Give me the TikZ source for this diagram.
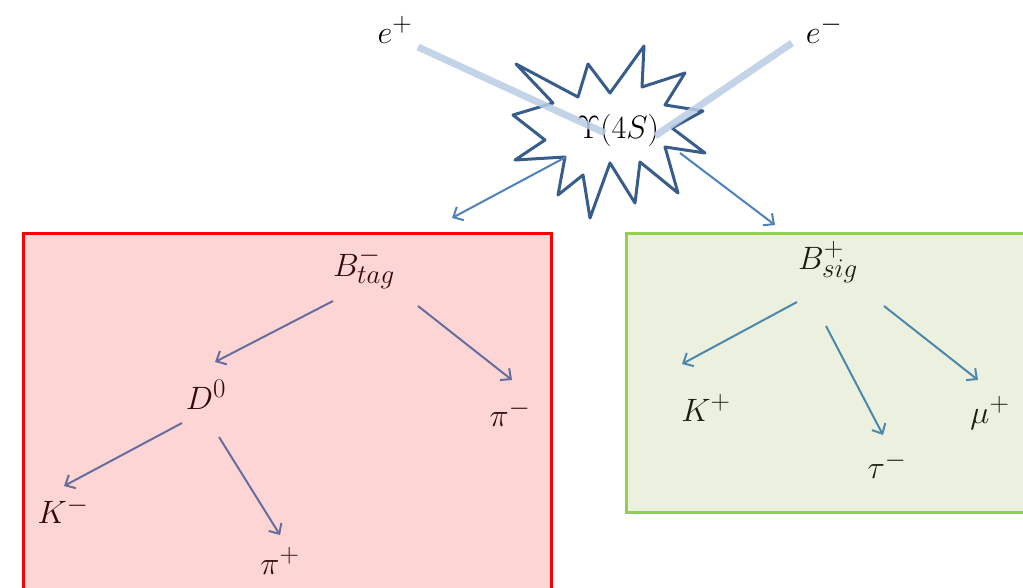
\documentclass[tikz,border=0pt]{standalone}
\usetikzlibrary{arrows.meta}
\definecolor{redfill}{RGB}{253,213,213}
\definecolor{redline}{RGB}{255,0,0}
\definecolor{greenfill}{RGB}{235,241,222}
\definecolor{greenline}{RGB}{146,208,80}
\definecolor{starline}{RGB}{56,93,138}
\definecolor{beam}{RGB}{185,205,229}
\definecolor{toparrow}{RGB}{79,129,189}
\definecolor{redarrow}{RGB}{102,110,158}
\definecolor{greenarrow}{RGB}{76,136,172}
\definecolor{redtext}{RGB}{45,12,12}
\definecolor{greentext}{RGB}{22,32,14}
\tikzset{
  lbl/.style={inner sep=0pt, font=\Huge, transform shape, scale=1.3},
  arr/.style={line width=2pt, -{Straight Barb[length=8pt,width=15pt,line width=2pt]}},
  beamline/.style={line width=7pt, color=beam, opacity=0.85},
}
\begin{document}
\begin{tikzpicture}[x=1pt,y=-1pt]
\useasboundingbox (0,0) rectangle (1023,587);
% boxes
\fill[redfill] (23,233) rectangle (551,600);
\draw[redline, line width=3pt] (23,600) -- (23,233) -- (551,233) -- (551,600);
\fill[greenfill] (626,233) rectangle (1030,512);
\draw[greenline, line width=3pt] (1030,512) -- (626,512) -- (626,233) -- (1030,233);
% star
\draw[starline, fill=white, line width=3pt, line join=round]
  (516,64) -- (578,97) -- (588,64) -- (610,93) -- (644,46) -- (642,87)
  -- (685,73) -- (665,105) -- (703,111) -- (672,128) -- (705,153) -- (665,147)
  -- (678,193) -- (640,162) -- (635,203) -- (610,163) -- (590,218) -- (583,175)
  -- (558,195) -- (565,157) -- (515,160) -- (545,140) -- (513,115) -- (553,103)
  -- cycle;
% labels
\node[lbl] (ep) at (395,30) {$e^+$};
\node[lbl] (em) at (824,30) {$e^-$};
\node[lbl] (ups) at (618,130) {$\Upsilon(4S)$};
% beams
\draw[beamline] ([shift={(23,17)}]ep.center) -- ([shift={(-13,3)}]ups.center);
\draw[beamline] ([shift={(-32,13)}]em.center) -- ([shift={(37,6)}]ups.center);
% arrows from star
\draw[arr, toparrow] ([shift={(-52,27)}]ups.center) -- ([shift={(-166,88)}]ups.center) coordinate (tagend);
\draw[arr, toparrow] ([shift={(62,23)}]ups.center) -- ([shift={(157,95)}]ups.center) coordinate (sigend);
% tag side
\begin{scope}[redtext]
\node[lbl] (btag) at (364,268) {$B^-_{tag}$};
\node[lbl] (d0) at (206,395) {$D^0$};
\node[lbl] (pim) at (510,413) {$\pi^-$};
\node[lbl] (km) at (63,510) {$K^-$};
\node[lbl] (pip) at (280,561) {$\pi^+$};
\end{scope}
\draw[arr, redarrow] ([shift={(-31,33)}]btag.center) -- ([shift={(9,-33)}]d0.center);
\draw[arr, redarrow] ([shift={(54,38)}]btag.center) -- ([shift={(2,-33)}]pim.center);
\draw[arr, redarrow] ([shift={(-24,28)}]d0.center) -- ([shift={(1,-24)}]km.center);
\draw[arr, redarrow] ([shift={(13,42)}]d0.center) -- ([shift={(0,-26)}]pip.center);
% signal side
\begin{scope}[greentext]
\node[lbl] (bsig) at (828,262) {$B^+_{sig}$};
\node[lbl] (kp) at (706,408) {$K^+$};
\node[lbl] (tau) at (887,465) {$\tau^-$};
\node[lbl] (mu) at (990,413) {$\mu^+$};
\end{scope}
\draw[arr, greenarrow] ([shift={(-31,40)}]bsig.center) -- ([shift={(-24,-44)}]kp.center);
\draw[arr, greenarrow] ([shift={(-2,64)}]bsig.center) -- ([shift={(-4,-30)}]tau.center);
\draw[arr, greenarrow] ([shift={(56,44)}]bsig.center) -- ([shift={(-12,-33)}]mu.center);
\end{tikzpicture}
\end{document}
